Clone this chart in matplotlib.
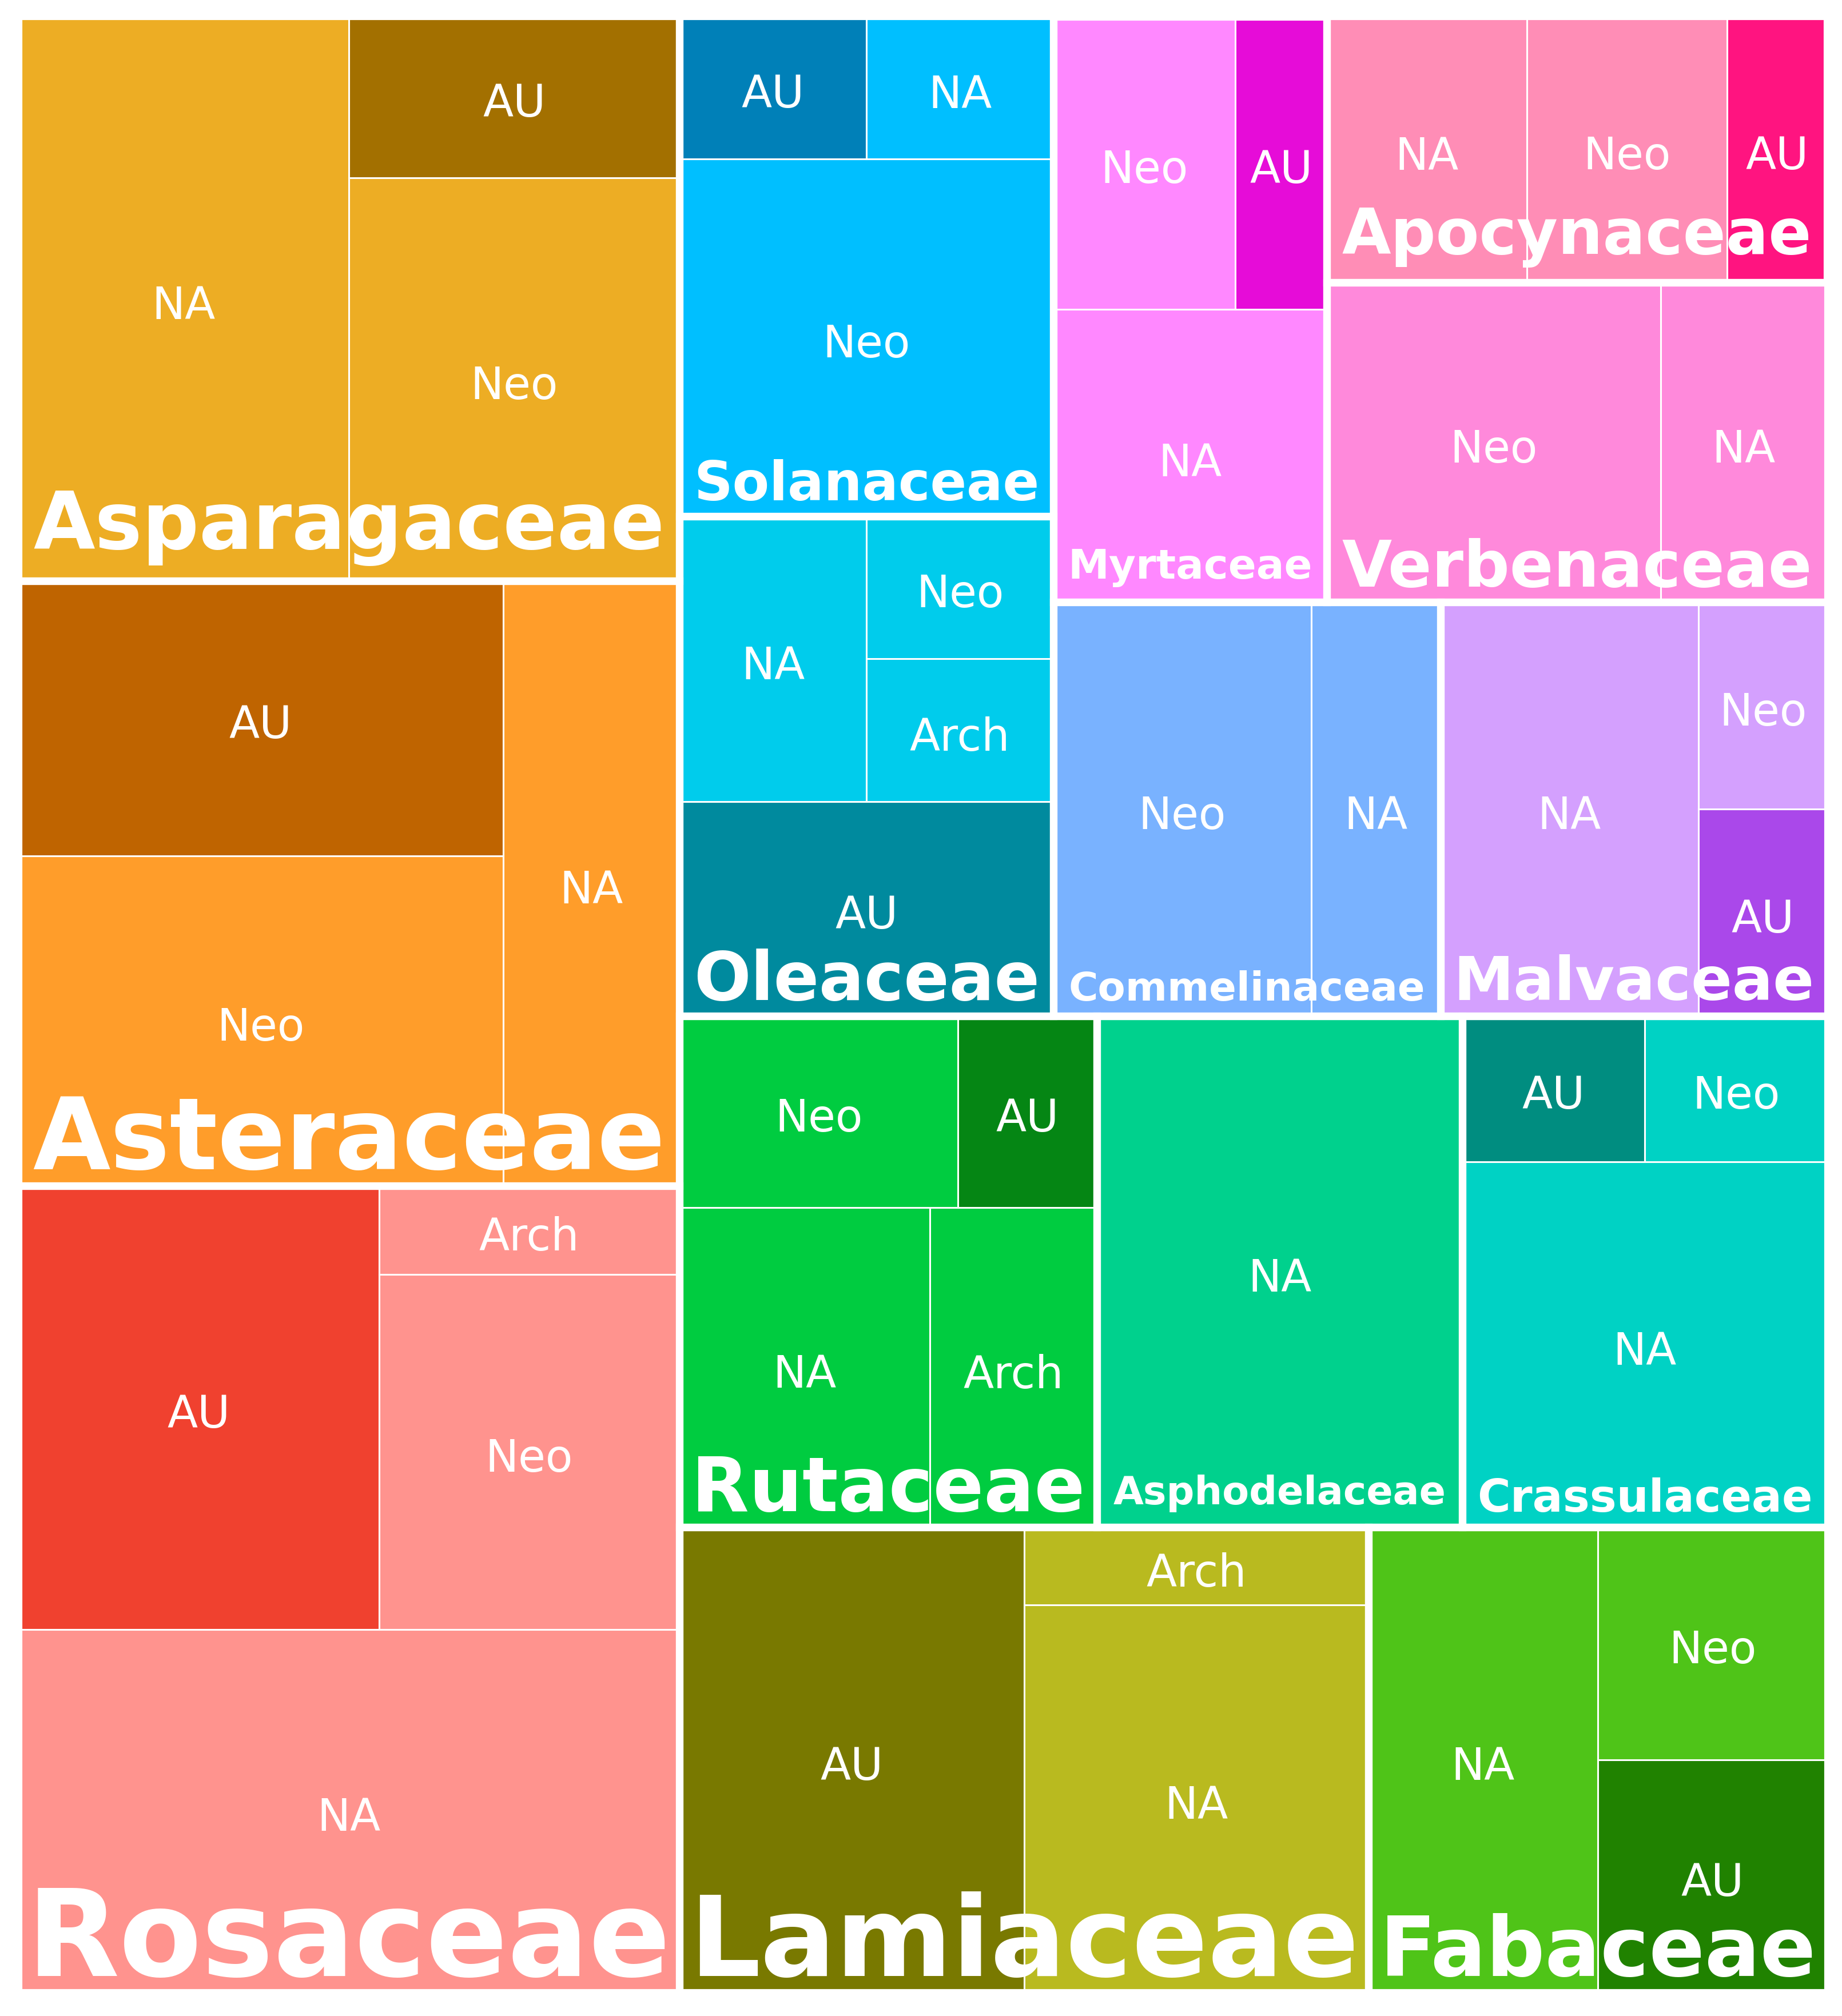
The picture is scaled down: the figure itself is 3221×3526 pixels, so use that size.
#!/usr/bin/env python
# -*- coding: utf-8 -*-

"""
plot.py: 科(family)ごと・起源(origin)ごとの種数をツリーマップで描画するスクリプト

treemapify(squarified) と同じ並べ方を自前で実装して out.png を保存します。
"""

import pandas as pd
import matplotlib
matplotlib.use('Agg')
import matplotlib.pyplot as plt
from matplotlib.patches import Rectangle
from matplotlib.font_manager import FontProperties
from matplotlib.textpath import TextPath

# データ（科・起源・件数）
family = [
    'Rosaceae', 'Rosaceae', 'Rosaceae', 'Rosaceae',
    'Asteraceae', 'Asteraceae', 'Asteraceae',
    'Asparagaceae', 'Asparagaceae', 'Asparagaceae',
    'Lamiaceae', 'Lamiaceae', 'Lamiaceae',
    'Fabaceae', 'Fabaceae', 'Fabaceae',
    'Rutaceae', 'Rutaceae', 'Rutaceae', 'Rutaceae',
    'Asphodelaceae',
    'Crassulaceae', 'Crassulaceae', 'Crassulaceae',
    'Oleaceae', 'Oleaceae', 'Oleaceae', 'Oleaceae',
    'Solanaceae', 'Solanaceae', 'Solanaceae',
    'Commelinaceae', 'Commelinaceae',
    'Malvaceae', 'Malvaceae', 'Malvaceae',
    'Myrtaceae', 'Myrtaceae', 'Myrtaceae',
    'Verbenaceae', 'Verbenaceae',
    'Apocynaceae', 'Apocynaceae', 'Apocynaceae',
]
origin = [
    'NA', 'AU', 'Neo', 'Arch',
    'Neo', 'AU', 'NA',
    'NA', 'Neo', 'AU',
    'AU', 'NA', 'Arch',
    'NA', 'AU', 'Neo',
    'NA', 'Arch', 'Neo', 'AU',
    'NA',
    'NA', 'AU', 'Neo',
    'AU', 'NA', 'Arch', 'Neo',
    'Neo', 'AU', 'NA',
    'Neo', 'NA',
    'NA', 'AU', 'Neo',
    'NA', 'Neo', 'AU',
    'Neo', 'NA',
    'NA', 'Neo', 'AU',
]
count = [
    9, 6, 4, 1,
    6, 5, 4,
    7, 5, 2,
    6, 5, 1,
    4, 2, 2,
    3, 2, 2, 1,
    7,
    5, 1, 1,
    3, 2, 1, 1,
    5, 1, 1,
    4, 2,
    4, 1, 1,
    3, 2, 1,
    4, 2,
    2, 2, 1,
]

# 科ごとの色（AU は濃い色、それ以外は明るい色）
light_colours = {
    'Rosaceae': '#FF938E', 'Asteraceae': '#FF9D2A', 'Asparagaceae': '#EDAD24',
    'Lamiaceae': '#B9BA1F', 'Fabaceae': '#4FC418', 'Rutaceae': '#00CC40',
    'Asphodelaceae': '#00D18D', 'Crassulaceae': '#00D2C4', 'Oleaceae': '#00CCEC',
    'Solanaceae': '#00BFFF', 'Commelinaceae': '#79B2FF', 'Malvaceae': '#D4A0FE',
    'Myrtaceae': '#FF88FF', 'Verbenaceae': '#FF89DB', 'Apocynaceae': '#FF8DB6',
}
au_colours = {
    'Rosaceae': '#F0412F', 'Asteraceae': '#BF6400', 'Asparagaceae': '#A37000',
    'Lamiaceae': '#797900', 'Fabaceae': '#208200', 'Rutaceae': '#058614',
    'Crassulaceae': '#008D80', 'Oleaceae': '#008A9E', 'Solanaceae': '#0080B8',
    'Malvaceae': '#AA48EA', 'Myrtaceae': '#E60CD8', 'Apocynaceae': '#FF1480',
}

# 出力サイズ関連
DPI = 100
FIG_W, FIG_H = 3221, 3526
AX_LEFT, AX_TOP = 31.5, 28.5
AX_W, AX_H = 3164.0, 3456.0
PX_PER_PT = DPI / 72.0
PAD_X = 30.0        # グループラベルの左右余白(px)
PAD_Y = 26.0        # グループラベルの上下余白(px)
SUB_FONTSIZE = 56   # サブグループラベルの文字サイズ
SUB_SHIFT = 7.0     # サブグループラベルを下げる量(px)


def worst_ratio(row, side):
    """行内の最悪アスペクト比"""
    s = sum(row)
    return max(max(side ** 2 * r / s ** 2, s ** 2 / (side ** 2 * r)) for r in row)


def squarify(values, x, y, w, h):
    """squarified アルゴリズムで矩形を割り付ける（values は面積、降順）"""
    rects = []
    vals = list(values)
    while vals:
        vertical = w >= h
        side = h if vertical else w
        row = [vals[0]]
        i = 1
        while i < len(vals) and worst_ratio(row + [vals[i]], side) <= worst_ratio(row, side):
            row.append(vals[i])
            i += 1
        s = sum(row)
        if vertical:
            cw = s / h
            yy = y
            for r in row:
                rh = r / cw
                rects.append((x, yy, cw, rh))
                yy += rh
            x += cw
            w -= cw
        else:
            rh = s / w
            xx = x
            for r in row:
                rw = r / rh
                rects.append((xx, y, rw, rh))
                xx += rw
            y += rh
            h -= rh
        vals = vals[i:]
    return rects


def build_layout(df):
    """科と起源の矩形を計算する"""
    totals = df.groupby('family')['n'].sum()
    order = sorted(totals.index, key=lambda f: (-totals[f], f))
    areas = [totals[f] / totals.sum() for f in order]
    group_rects = dict(zip(order, squarify(areas, 0.0, 0.0, 1.0, 1.0)))

    sub_rects = []
    for f in order:
        gx, gy, gw, gh = group_rects[f]
        sub = df[df['family'] == f].copy()
        sub['neg'] = -sub['n']
        sub = sub.sort_values(['neg', 'origin'])
        vals = list(sub['n'] / sub['n'].sum() * gw * gh)
        for o, r in zip(sub['origin'], squarify(vals, gx, gy, gw, gh)):
            sub_rects.append((f, o, r))
    return order, group_rects, sub_rects


def ink_bbox(s, fp):
    """文字列のインク範囲（フォントサイズ1あたり）"""
    return TextPath((0, 0), s, size=1, prop=fp).get_extents()


def main():
    df = pd.DataFrame({'family': family, 'origin': origin, 'n': count})
    order, group_rects, sub_rects = build_layout(df)

    fig = plt.figure(figsize=(FIG_W / DPI, FIG_H / DPI), dpi=DPI)
    ax = fig.add_axes([AX_LEFT / FIG_W, 1 - (AX_TOP + AX_H) / FIG_H, AX_W / FIG_W, AX_H / FIG_H])
    ax.set_xlim(0, 1)
    ax.set_ylim(0, 1)
    ax.axis('off')

    fp_sub = FontProperties(family='DejaVu Sans')
    fp_group = FontProperties(family='DejaVu Sans', weight='bold')

    # サブグループの矩形
    for f, o, (x, y, w, h) in sub_rects:
        colour = au_colours[f] if o == 'AU' else light_colours[f]
        ax.add_patch(Rectangle((x, y), w, h, facecolor=colour, edgecolor='white',
                               linewidth=2.2, zorder=1, clip_on=False))

    # グループの枠線
    for f in order:
        x, y, w, h = group_rects[f]
        ax.add_patch(Rectangle((x, y), w, h, fill=False, edgecolor='white',
                               linewidth=9.5, zorder=2, clip_on=False))

    # グループラベル（下寄せ、幅いっぱいに拡大）
    for f in order:
        x, y, w, h = group_rects[f]
        bb = ink_bbox(f, fp_group)
        wpx, hpx = w * AX_W, h * AX_H
        fs = min((wpx - 2 * PAD_X) / (bb.width * PX_PER_PT),
                 (hpx - 2 * PAD_Y) / (bb.height * PX_PER_PT))
        base = y + (PAD_Y - bb.y0 * fs * PX_PER_PT) / AX_H
        ax.text(x + w / 2, base, f, ha='center', va='baseline', color='white',
                fontsize=fs, fontproperties=fp_group, zorder=3)

    # サブグループラベル（中央）
    for f, o, (x, y, w, h) in sub_rects:
        bb = ink_bbox(o, fp_sub)
        cy = y + h / 2
        base = cy - ((bb.y0 + bb.y1) / 2 * SUB_FONTSIZE * PX_PER_PT + SUB_SHIFT) / AX_H
        ax.text(x + w / 2, base, o, ha='center', va='baseline', color='white',
                fontsize=SUB_FONTSIZE, fontproperties=fp_sub, zorder=4)

    fig.savefig('out.png', dpi=DPI, facecolor='white')


if __name__ == '__main__':
    main()
